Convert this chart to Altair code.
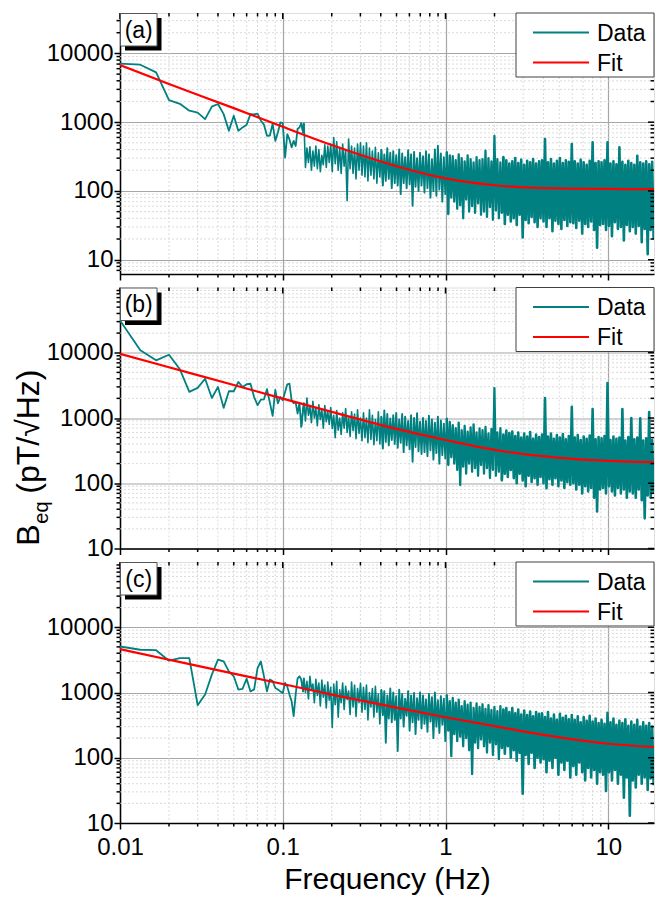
import altair as alt
import numpy as np
import pandas as pd

FONT = "Liberation Sans"
TEAL = "#008080"
RED = "#ff0000"
W, H = 534, 261
XMIN, XMAX = 0.01, 19.1

DF = 1 / 300          # spacing of the measured spectrum (Hz)
N0 = 3                # first bin shown -> 0.01 Hz
DENSE_F = (0.135, 19.0)  # range of the dense part (peak/trough pairs per column)

# ---------------- panel (a) ----------------
a_low = [7100, 6850, 5300, 2100, 1850, 1470, 1380, 1110, 1680, 1840,
         1310, 750, 1240, 750, 840, 920, 1310, 1300, 1330, 1050,
         920, 635, 640, 950, 535, 710, 990, 970, 306, 670,
         560, 430, 535, 450, 795, 840, 970, 710]
a_up = [960, 420, 440, 380, 450, 400, 330, 470, 450, 480,
        600, 520, 430, 480, 400, 570, 450, 420, 480, 500,
        450, 500, 420, 380, 430, 360, 400, 340, 420, 360,
        380, 330, 400, 350, 310, 390, 340, 370, 300, 360,
        320, 380, 340, 290, 400, 455, 350, 310, 370, 330,
        320, 280, 340, 300, 270, 330, 290, 260, 310, 280,
        290, 384, 300, 270, 634, 290, 260, 310, 280, 250,
        270, 300, 255, 285, 240, 275, 260, 290, 250, 270,
        280, 567, 260, 290, 250, 275, 300, 255, 280, 265,
        480, 270, 250, 285, 260, 240, 275, 510, 255, 270,
        260, 280, 510, 250, 270, 245, 430, 265, 240, 275,
        255, 240, 325, 260, 250, 270, 245, 265]
a_dn = [220, 260, 200, 230, 210, 190, 240, 220, 260, 190,
        250, 200, 180, 230, 72, 210, 180, 150, 200, 170,
        160, 140, 170, 150, 130, 160, 120, 140, 150, 110,
        130, 120, 90, 130, 110, 125, 61, 115, 100, 120,
        95, 110, 80, 100, 85, 105, 70, 90, 46, 80,
        70, 55, 62, 40, 75, 50, 60, 48, 66, 45,
        50, 42, 58, 38, 52, 40, 48, 33, 45, 36,
        40, 32, 45, 21, 38, 34, 42, 35, 30, 40,
        36, 30, 40, 26, 37, 33, 28, 38, 31, 35,
        34, 29, 37, 24, 33, 30, 36, 27, 15, 32,
        33, 27, 31, 22, 35, 28, 30, 19, 32, 26,
        30, 24, 31, 18, 28, 12, 27, 20]

# ---------------- panel (b) ----------------
b_low = [31300, 10900, 7650, 9330, 5570, 2510, 2890, 4000, 2030, 2990,
         1430, 2570, 2570, 3570, 2990, 3290, 3350, 2100, 1570, 1910,
         1930, 2760, 1720, 1080, 2700, 1680, 2100, 1870, 2510, 3290,
         3350, 1870, 1680, 1760, 1170, 1700, 731, 1360]
b_up = [1700, 2030, 1500, 1800, 1400, 1600, 1350, 1550, 1250, 1450,
        1100, 1300, 1000, 1200, 1390, 1050, 1250, 1150, 1330, 1000,
        1200, 1000, 1330, 1100, 950, 1250, 1050, 1300, 1150, 980,
        1100, 1200, 950, 1150, 1050, 900, 1100, 1000, 1180, 880,
        1000, 900, 1080, 950, 850, 1050, 920, 820, 980, 870,
        780, 700, 850, 650, 760, 620, 720, 800, 600, 690,
        650, 730, 580, 680, 2880, 600, 700, 560, 640, 590,
        620, 530, 600, 500, 580, 520, 610, 480, 560, 510,
        560, 2030, 520, 580, 480, 550, 500, 570, 470, 530,
        1480, 500, 550, 460, 520, 480, 540, 1370, 470, 510,
        490, 530, 3440, 460, 520, 480, 500, 1370, 450, 510,
        1000, 470, 500, 990, 450, 490, 1230, 460]
b_dn = [900, 1100, 850, 1000, 760, 950, 700, 880, 800, 690,
        500, 650, 560, 700, 600, 520, 640, 480, 580, 450,
        500, 420, 470, 390, 450, 400, 340, 430, 380, 460,
        400, 350, 420, 300, 380, 330, 214, 360, 310, 280,
        300, 260, 320, 230, 290, 200, 270, 240, 190, 250,
        200, 160, 94, 180, 140, 200, 150, 170, 130, 190,
        140, 170, 120, 160, 130, 150, 110, 140, 125, 160,
        120, 100, 140, 110, 90, 130, 105, 120, 95, 125,
        100, 84, 115, 95, 120, 90, 110, 85, 105, 95,
        100, 80, 95, 70, 90, 75, 85, 60, 37, 80,
        85, 70, 90, 75, 65, 85, 70, 80, 60, 75,
        70, 60, 80, 55, 29, 65, 60, 70]

# ---------------- panel (c) ----------------
c_low = [5070, 4520, 4450, 3070, 3370, 3370, 640, 930, 1880, 3180,
         3000, 2110, 1770, 1110, 1140, 1630, 1040, 1110, 2360, 2990,
         1770, 1040, 1580, 1500, 1170, 1110, 1040, 980, 1400, 1230,
         930, 735, 434, 930, 1650, 1770, 1580, 1040]
c_up = [1650, 1480, 1770, 1350, 1600, 1400, 1550, 1300, 1450, 1200,
        1350, 1480, 1100, 1400, 1250, 1050, 1450, 1300, 1150, 1380,
        1200, 1300, 1000, 1150, 1250, 950, 1100, 1050, 900, 1150,
        1000, 880, 1100, 950, 800, 1050, 900, 980, 820, 1000,
        900, 780, 950, 850, 1000, 760, 880, 800, 920, 740,
        825, 700, 780, 620, 740, 650, 700, 580, 680, 600,
        660, 560, 640, 540, 600, 520, 620, 550, 580, 500,
        580, 480, 550, 460, 530, 450, 510, 430, 500, 470,
        480, 420, 500, 400, 460, 380, 470, 410, 440, 390,
        450, 380, 430, 350, 420, 370, 440, 360, 400, 340,
        380, 330, 490, 350, 400, 320, 370, 340, 390, 310,
        360, 320, 380, 300, 350, 310, 340, 300]
c_dn = [1000, 800, 1100, 700, 900, 620, 850, 580, 760, 290,
        650, 420, 700, 550, 780, 460, 600, 430, 700, 500,
        550, 380, 600, 420, 500, 330, 450, 170, 400, 350,
        380, 127, 400, 300, 440, 260, 350, 230, 380, 280,
        330, 250, 360, 200, 300, 240, 320, 180, 260, 106,
        230, 180, 210, 150, 200, 130, 56, 170, 140, 190,
        150, 120, 170, 110, 160, 95, 140, 115, 150, 100,
        130, 90, 120, 28, 110, 80, 120, 70, 100, 85,
        95, 60, 90, 70, 100, 55, 85, 65, 90, 50,
        75, 55, 85, 60, 45, 70, 50, 65, 40, 60,
        55, 31, 60, 45, 65, 40, 55, 24.5, 50, 12.9,
        45, 35, 55, 40, 50, 32, 48, 38]

# ---------------- fitted curves (read at these frequencies) ----------------
fit_f = [0.01, 0.02, 0.05, 0.1, 0.2, 0.5, 1, 2, 5, 10, 19.1]
a_fit = [6780, 3600, 1600, 857, 465, 229, 152, 121, 109, 107, 106]
b_fit = [9650, 6000, 3200, 1980, 1240, 680, 460, 325, 245, 220, 210]
c_fit = [4610, 3180, 1950, 1350, 930, 585, 418, 305, 205, 164, 146]

MAJ_X = [0.01, 0.1, 1, 10]
MIN_X = [m * 10.0 ** e for e in (-2, -1, 0, 1) for m in range(2, 10) if m * 10.0 ** e <= XMAX]

# stroke width of the data trace per frequency band (the trace gets denser with f)
BANDS = [(0.0, 0.136, 1.8), (0.13, 0.42, 1.6), (0.40, 1.05, 1.9), (1.0, 2.3, 2.3), (2.2, 20.0, 2.6)]


def spectrum(low, up, dn):
    assert len(up) == len(dn)
    f_low = (np.arange(len(low)) + N0) * DF
    fd = np.geomspace(DENSE_F[0], DENSE_F[1], 2 * len(up))
    vd = np.empty(2 * len(up))
    vd[0::2] = up
    vd[1::2] = dn
    return pd.DataFrame({"f": np.concatenate([f_low, fd]),
                         "B": np.concatenate([np.array(low, float), vd])})


def panel(low, up, dn, fit, ylo, yhi, tag, bottom, ytitle=False):
    xs = alt.Scale(type="log", domain=[XMIN, XMAX], nice=False)
    ys = alt.Scale(type="log", domain=[ylo, yhi], nice=False)
    maj_y = [10.0 ** e for e in range(0, 6) if ylo <= 10.0 ** e < yhi]
    min_y = [m * 10.0 ** e for e in range(0, 5) for m in range(2, 10) if ylo <= m * 10.0 ** e <= yhi]
    one = pd.DataFrame({"k": [0]})
    tx = pd.DataFrame({"t": MIN_X})
    txM = pd.DataFrame({"t": MAJ_X})
    ty = pd.DataFrame({"t": min_y})
    tyM = pd.DataFrame({"t": maj_y})

    xaxis_kw = dict(values=MAJ_X, format="~g", labels=bottom, labelFlush=False,
                    labelFontSize=24, labelFont=FONT, labelColor="black", labelPadding=6,
                    tickSize=6, tickWidth=1.5, tickColor="black",
                    domainColor="black", domainWidth=1.5,
                    grid=True, gridColor="#a6a6a6", gridWidth=1.2, labelOverlap=False)
    if bottom:
        xaxis = alt.Axis(title="Frequency (Hz)", titleFont=FONT, titleFontSize=30,
                         titleFontWeight="normal", titleColor="black", titlePadding=5, **xaxis_kw)
    else:
        xaxis = alt.Axis(title=None, **xaxis_kw)
    yaxis = alt.Axis(values=maj_y, format="~g", title=None, labelFontSize=24, labelFont=FONT,
                     labelColor="black", labelPadding=1, tickSize=6, tickWidth=1.5,
                     tickColor="black", domainColor="black", domainWidth=1.5,
                     grid=True, gridColor="#a6a6a6", gridWidth=1.2, labelOverlap=False)

    def X(field):
        return alt.X(field, type="quantitative", scale=xs, axis=xaxis)

    def Y(field):
        return alt.Y(field, type="quantitative", scale=ys, axis=yaxis)

    grid_x = alt.Chart(tx).mark_rule(color="#d2d2d2", strokeWidth=0.8, strokeDash=[2, 2]).encode(x=X("t"))
    grid_y = alt.Chart(ty).mark_rule(color="#d2d2d2", strokeWidth=0.8, strokeDash=[2, 2]).encode(y=Y("t"))

    spec = spectrum(low, up, dn)
    data_layers = []
    for f0, f1, w in BANDS:
        part = spec[(spec.f >= f0) & (spec.f <= f1)]
        data_layers.append(
            alt.Chart(part).mark_line(color=TEAL, strokeWidth=w, strokeJoin="round", clip=True).encode(
                x=X("f"), y=Y("B")))

    fit_line = alt.Chart(pd.DataFrame({"f": fit_f, "B": fit})).mark_line(
        color=RED, strokeWidth=2.2, interpolate="monotone", clip=True).encode(x=X("f"), y=Y("B"))

    # inward ticks on top/right, outward minor ticks on bottom/left
    tk = dict(color="black", strokeWidth=1.5)
    top_M = alt.Chart(txM).mark_rule(**tk).encode(x=X("t"), y=alt.value(0), y2=alt.value(6))
    top_m = alt.Chart(tx).mark_rule(**tk).encode(x=X("t"), y=alt.value(0), y2=alt.value(3.5))
    bot_m = alt.Chart(tx).mark_rule(**tk).encode(x=X("t"), y=alt.value(H), y2=alt.value(H + 3.5))
    rgt_M = alt.Chart(tyM).mark_rule(**tk).encode(y=Y("t"), x=alt.value(W), x2=alt.value(W - 6))
    rgt_m = alt.Chart(ty).mark_rule(**tk).encode(y=Y("t"), x=alt.value(W), x2=alt.value(W - 3.5))
    lft_m = alt.Chart(ty).mark_rule(**tk).encode(y=Y("t"), x=alt.value(0), x2=alt.value(-3.5))

    # legend (box flush with the right frame)
    L0 = W - 138
    leg_box = alt.Chart(one).mark_rect(fill="white", stroke="#404040", strokeWidth=1).encode(
        x=alt.value(L0), x2=alt.value(W), y=alt.value(0), y2=alt.value(64))
    leg_r1 = alt.Chart(one).mark_rule(color=TEAL, strokeWidth=2).encode(
        x=alt.value(L0 + 17), x2=alt.value(L0 + 73), y=alt.value(19.5))
    leg_r2 = alt.Chart(one).mark_rule(color=RED, strokeWidth=2).encode(
        x=alt.value(L0 + 17), x2=alt.value(L0 + 73), y=alt.value(49.5))
    leg_t1 = alt.Chart(one).mark_text(text="Data", align="left", baseline="alphabetic",
                                      fontSize=23, font=FONT, color="black").encode(
        x=alt.value(L0 + 81), y=alt.value(27.7))
    leg_t2 = alt.Chart(one).mark_text(text="Fit", align="left", baseline="alphabetic",
                                      fontSize=23, font=FONT, color="black").encode(
        x=alt.value(L0 + 81), y=alt.value(57.7))

    # panel tag
    shadow = alt.Chart(one).mark_rect(fill="black").encode(
        x=alt.value(5), x2=alt.value(41.5), y=alt.value(5), y2=alt.value(37.5))
    tag_box = alt.Chart(one).mark_rect(fill="white", stroke="#555555", strokeWidth=1).encode(
        x=alt.value(0.5), x2=alt.value(37), y=alt.value(0.5), y2=alt.value(33))
    tag_txt = alt.Chart(one).mark_text(text=f"({tag})", align="center", baseline="alphabetic",
                                       fontSize=23, font=FONT, color="black").encode(
        x=alt.value(18.7), y=alt.value(24.5))

    layers = [grid_x, grid_y] + data_layers + [fit_line,
              top_M, top_m, bot_m, rgt_M, rgt_m, lft_m,
              leg_box, leg_r1, leg_r2, leg_t1, leg_t2, shadow, tag_box, tag_txt]

    if ytitle:
        tb = dict(angle=270, align="left", baseline="alphabetic", font=FONT, color="black")
        layers += [
            alt.Chart(one).mark_text(text="B", fontSize=32, **tb).encode(x=alt.value(-81), y=alt.value(258.2)),
            alt.Chart(one).mark_text(text="eq", fontSize=20, **tb).encode(x=alt.value(-72), y=alt.value(236.2)),
            alt.Chart(one).mark_text(text="(pT/\u221aHz)", fontSize=32, **tb).encode(x=alt.value(-81), y=alt.value(206.2)),
        ]
    return alt.layer(*layers).properties(width=W, height=H)


pa = panel(a_low, a_up, a_dn, a_fit, 6.2, 38700, "a", bottom=False)
pb = panel(b_low, b_up, b_dn, b_fit, 10, 100000, "b", bottom=False, ytitle=True)
pc = panel(c_low, c_up, c_dn, c_fit, 10, 100000, "c", bottom=True)

chart = alt.vconcat(pa, pb, pc, spacing=13.5, bounds="flush").resolve_scale(
    x="independent", y="independent").properties(
    padding={"left": 4, "top": 3, "right": 0, "bottom": 0}).configure_view(
    stroke="black", strokeWidth=1.5).configure(font=FONT, background="white")

chart.save("out.html", embed_options={"renderer": "svg", "actions": False})
